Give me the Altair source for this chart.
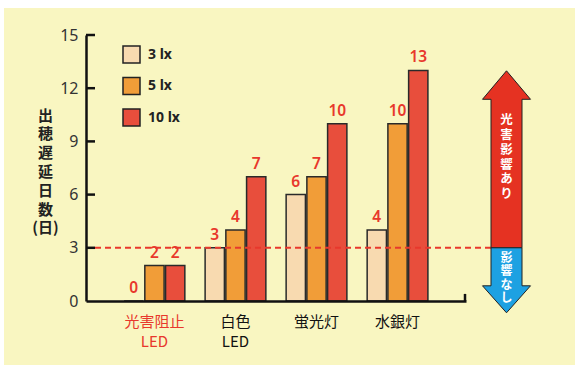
import altair as alt
import pandas as pd

# ---- data ----
categories = ["光害阻止 LED", "白色 LED", "蛍光灯", "水銀灯"]
lux_levels = ["3 lx", "5 lx", "10 lx"]
values_3lx = [0, 3, 6, 4]
values_5lx = [2, 4, 7, 10]
values_10lx = [2, 7, 10, 13]
y_ticks = [0, 3, 6, 9, 12, 15]
threshold = [3]
y_title = ["出", "穂", "遅", "延", "日", "数", "(日)"]
arrow_up_text = ["光", "害", "影", "響", "あ", "り"]
arrow_down_text = ["影", "響", "な", "し"]

bar_colors = ["#F8DAB0", "#F19D38", "#E84E3C"]
red_text = "#E8382C"
panel_color = "#F9F6C1"

rows = []
for lvl, vals in zip(lux_levels, [values_3lx, values_5lx, values_10lx]):
    for c, v in zip(categories, vals):
        rows.append({"cat": c, "lux": lvl, "days": v})
df = pd.DataFrame(rows)

W, H = 380, 266

x_enc = alt.X("cat:N", sort=categories,
              scale=alt.Scale(paddingInner=0.24, paddingOuter=0.465),
              axis=alt.Axis(title=None, labelAngle=0, ticks=False, zindex=1,
                            domainColor="#111", domainWidth=2.5,
                            labelExpr="split(datum.label, ' ')",
                            labelFont="Noto Sans CJK JP", labelFontSize=15,
                            labelLineHeight=20, labelPadding=13,
                            labelColor=alt.condition("datum.value == '光害阻止 LED'",
                                                     alt.value(red_text), alt.value("#111"))))
y_scale = alt.Scale(domain=[0, 15], nice=False)
y_enc = alt.Y("days:Q", scale=y_scale,
              axis=alt.Axis(values=y_ticks, ticks=False, grid=False, zindex=1,
                            domainColor="#111", domainWidth=2.5,
                            labelFont="Noto Sans", labelFontSize=16, labelColor="#333",
                            labelPadding=8,
                            title=y_title, titleAngle=0, titleAlign="center",
                            titleBaseline="middle", titleX=-41, titleY=80,
                            titleFont="Noto Sans CJK JP", titleFontSize=15,
                            titleFontWeight="bold", titleLineHeight=18.8,
                            titleColor="#222"))

base = alt.Chart(df)

# decorative pale-yellow panel behind the whole figure
panel = alt.Chart(pd.DataFrame({"k": [0]})).mark_rect(color=panel_color).encode(
    x=alt.value(-82), x2=alt.value(489), y=alt.value(-27), y2=alt.value(330))

bars = base.mark_bar(stroke="#2a2a2a", strokeWidth=1.5).encode(
    x=x_enc,
    xOffset=alt.XOffset("lux:N", sort=lux_levels,
                        scale=alt.Scale(paddingInner=0.07, paddingOuter=0.02)),
    y=y_enc,
    color=alt.Color("lux:N", sort=lux_levels,
                    scale=alt.Scale(domain=lux_levels, range=bar_colors),
                    legend=alt.Legend(title=None, orient="none", legendX=36, legendY=10,
                                      symbolType="square", symbolSize=289,
                                      symbolStrokeColor="#222", symbolStrokeWidth=1.5,
                                      symbolOpacity=1, zindex=1,
                                      labelFont="Noto Sans", labelFontSize=14,
                                      labelFontWeight="bold", labelColor="#222",
                                      labelOffset=7, rowPadding=8.5, padding=0,
                                      labelExpr="datum.label == '10 lx' ? datum.label : '\u00a0\u00a0' + datum.label")),
)

labels = base.mark_text(baseline="bottom", dy=-5, fontSize=15.5, fontWeight=600,
                        font="Noto Sans", color=red_text).encode(
    x=alt.X("cat:N", sort=categories),
    xOffset=alt.XOffset("lux:N", sort=lux_levels),
    y=alt.Y("days:Q"),
    text=alt.Text("days:Q"),
)

tick_df = pd.DataFrame({"t": y_ticks[1:]})
yticks = alt.Chart(tick_df).mark_rule(color="#111", strokeWidth=2.5).encode(
    y=alt.Y("t:Q"), x=alt.value(0), x2=alt.value(9))

end_tick = alt.Chart(pd.DataFrame({"a": [0], "b": [0.4]})).mark_rule(
    color="#111", strokeWidth=2.5).encode(
    x=alt.value(379), y=alt.Y("a:Q"), y2=alt.Y2("b:Q"))

dash = alt.Chart(pd.DataFrame({"t": threshold})).mark_rule(
    color=red_text, strokeWidth=2, strokeDash=[6, 4]).encode(
    y=alt.Y("t:Q"), x=alt.value(9), x2=alt.value(405))

up_path = "M-15.5,0L-15.5,-148.5L-24,-148.5L0,-177L24,-148.5L15.5,-148.5L15.5,0Z"
down_path = "M-15.5,0L-15.5,38L-24,38L0,65L24,38L15.5,38L15.5,0Z"

arrow_up = alt.Chart(pd.DataFrame({"t": threshold})).mark_point(
    shape=up_path, size=4, filled=True, fill="#E53222", stroke="#222",
    strokeWidth=1, opacity=1).encode(y=alt.Y("t:Q"), x=alt.value(420.5))
arrow_down = alt.Chart(pd.DataFrame({"t": threshold})).mark_point(
    shape=down_path, size=4, filled=True, fill="#1DA1E2", stroke="#222",
    strokeWidth=1, opacity=1).encode(y=alt.Y("t:Q"), x=alt.value(420.5))

up_txt = alt.Chart(pd.DataFrame({"p": [10.2]})).mark_text(
    text=arrow_up_text, color="white", fontSize=12.5, fontWeight="bold",
    font="Noto Sans CJK JP", lineHeight=14.8, baseline="middle", align="center").encode(
    y=alt.Y("p:Q"), x=alt.value(420.5))
down_txt = alt.Chart(pd.DataFrame({"p": [2.45]})).mark_text(
    text=arrow_down_text, color="white", fontSize=12, fontWeight="bold",
    font="Noto Sans CJK JP", lineHeight=13.6, baseline="middle", align="center").encode(
    y=alt.Y("p:Q"), x=alt.value(420.5))

chart = alt.layer(panel, bars, labels, dash, yticks, end_tick, arrow_up, arrow_down,
                  up_txt, down_txt).properties(
    width=W, height=H,
    autosize=alt.AutoSizeParams(type="none"),
    padding={"left": 86, "top": 35, "right": 109, "bottom": 64},
    background="white",
).configure_view(stroke=None)

chart.save("out.html", embed_options={"renderer": "svg", "actions": False})
